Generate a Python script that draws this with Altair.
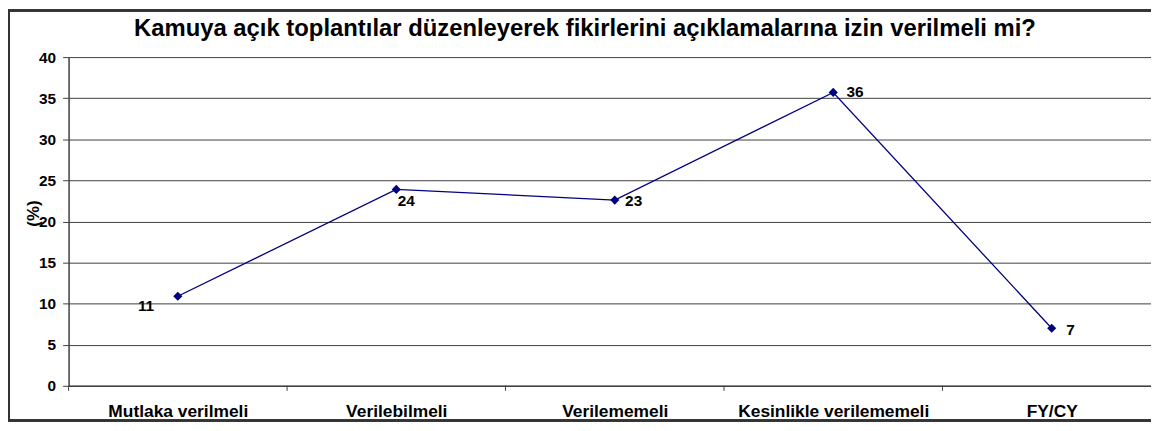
import json
import altair as alt
import pandas as pd

# ---- data ----
title_text = "Kamuya açık toplantılar düzenleyerek fikirlerini açıklamalarına izin verilmeli mi?"
categories = ["Mutlaka verilmeli", "Verilebilmeli", "Verilememeli",
              "Kesinlikle verilememeli", "FY/CY"]
values = [10.9, 23.9, 22.6, 35.7, 7.0]
value_labels = ["11", "24", "23", "36", "7"]
positions = [1, 2, 3, 4, 5]
y_ticks = [0, 5, 10, 15, 20, 25, 30, 35, 40]
boundaries = [0.5, 1.5, 2.5, 3.5, 4.5]

df = pd.DataFrame({"idx": positions, "cat": categories,
                   "value": values, "label": value_labels})
bdf = pd.DataFrame({"b": boundaries})
tdf = pd.DataFrame({"t": [title_text]})

# ---- layout ----
W, H = 1090, 331
BAND = 220
FONT = "Liberation Sans"
NAVY = "#000080"
AX = "#404040"

xscale = alt.Scale(domain=[0.5, 0.5 + W / BAND], nice=False, zero=False)
yscale = alt.Scale(domain=[0, 40], nice=False, zero=True)

label_expr = json.dumps(categories) + "[datum.value - 1]"

x_axis = alt.Axis(values=positions, labelExpr=label_expr, tickSize=0,
                  grid=False, title=None, labelFont=FONT, labelFontSize=17.5,
                  labelFontWeight="bold", labelColor="black", labelLimit=0,
                  labelBaseline="alphabetic", labelPadding=31,
                  domainColor=AX, domainWidth=1.5)
y_axis = alt.Axis(values=y_ticks, grid=True, gridColor=AX, gridWidth=1,
                  tickSize=6, tickColor=AX, domainColor=AX, domainWidth=1.5,
                  labelFont=FONT, labelFontSize=15.5, labelFontWeight="bold",
                  labelColor="black", labelPadding=7,
                  title="(%)", titleFont=FONT, titleFontSize=17,
                  titleFontWeight="bold", titleColor="black",
                  titleX=-35, titleY=157, titleAngle=-90,
                  titleAlign="center", titleBaseline="middle")

base = alt.Chart(df)

line = base.mark_line(color=NAVY, strokeWidth=1.3).encode(
    x=alt.X("idx:Q", scale=xscale, axis=x_axis),
    y=alt.Y("value:Q", scale=yscale, axis=y_axis),
)
pts = base.mark_point(shape="diamond", filled=True, color=NAVY, size=85,
                      opacity=1).encode(
    x=alt.X("idx:Q", scale=xscale),
    y=alt.Y("value:Q", scale=yscale),
)

# label placement offsets (style, per point)
offsets = {"Mutlaka verilmeli": (-32, 10), "Verilebilmeli": (10, 12),
           "Verilememeli": (19, 1), "Kesinlikle verilememeli": (22, 0),
           "FY/CY": (19, 2)}
texts = []
for cat in categories:
    dx, dy = offsets[cat]
    texts.append(
        base.transform_filter(alt.datum.cat == cat).mark_text(
            font=FONT, fontSize=15.5, fontWeight="bold", color="black",
            dx=dx, dy=dy, align="center", baseline="middle").encode(
            x=alt.X("idx:Q", scale=xscale),
            y=alt.Y("value:Q", scale=yscale),
            text="label:N")
    )

ticks = alt.Chart(bdf).mark_rule(color=AX, strokeWidth=1).encode(
    x=alt.X("b:Q", scale=xscale),
    y=alt.value(H), y2=alt.value(H + 5),
)

border = alt.Chart(bdf).mark_rect(filled=False, stroke="#333333",
                                  strokeWidth=2).encode(
    x=alt.value(-60), x2=alt.value(1200),
    y=alt.value(-47), y2=alt.value(366),
)

title = alt.Chart(tdf).mark_text(
    font=FONT, fontSize=24, fontWeight="bold", color="black",
    align="center", baseline="alphabetic").encode(
    x=alt.value(520), y=alt.value(-21), text="t:N")

chart = alt.layer(border, ticks, line, pts, *texts, title).properties(
    width=W, height=H,
    autosize=alt.AutoSizeParams(type="none"),
    padding={"left": 61, "top": 48, "right": 0, "bottom": 36},
).configure_view(strokeWidth=0)

chart.save("out.html", embed_options={"renderer": "svg", "actions": False})
